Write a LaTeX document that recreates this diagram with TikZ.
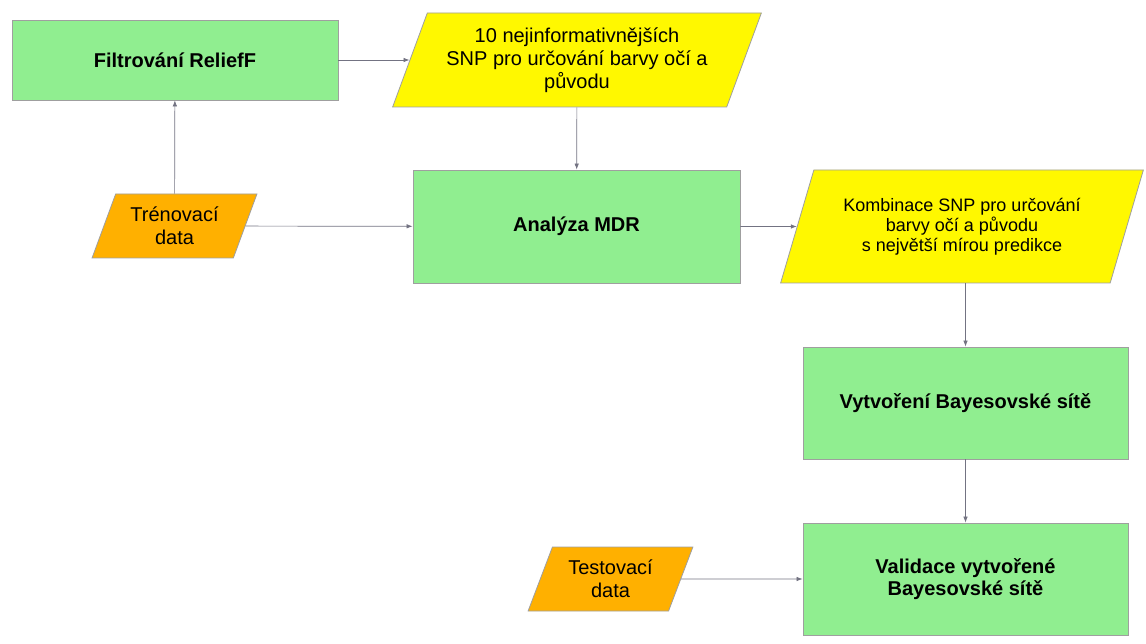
\documentclass[tikz,border=0pt]{standalone}
\usepackage{fontspec}
\setmainfont{Liberation Sans}
\usetikzlibrary{shapes.geometric,arrows.meta}
\definecolor{procgreen}{RGB}{144,238,144}
\definecolor{snpyellow}{RGB}{255,248,0}
\definecolor{dataorange}{RGB}{255,176,0}
\definecolor{flowgray}{RGB}{115,115,130}
\begin{document}
\begin{tikzpicture}[x=1pt,y=-1pt,
  proc/.style={draw=gray!75,line width=0.8pt,fill=procgreen,align=center,
    inner sep=0pt,font=\fontsize{20}{22}\selectfont\bfseries},
  dat/.style={trapezium,trapezium left angle=65,trapezium right angle=115,
    trapezium stretches=true,draw=gray!75,line width=0.8pt,align=center,
    inner sep=0pt,font=\fontsize{20}{23}\selectfont},
  flow/.style={draw=flowgray,line width=0.7pt,-{Latex[length=6pt,width=4.5pt]}}]
  \useasboundingbox (0,0) rectangle (1146,644);
  % processing steps
  \node[proc,minimum width=326pt,minimum height=80pt] (relief) at (175,60)
    {Filtrov\'an\'i ReliefF};
  \node[proc,minimum width=327pt,minimum height=113pt] (mdr) at (576.5,226.5)
    {Anal\'yza MDR};
  \node[proc,minimum width=325pt,minimum height=112pt] (bayes) at (965.5,403)
    {Vytvo\v{r}en\'i Bayesovsk\'e s\'it\v{e}};
  \node[proc,minimum width=325pt,minimum height=112pt] (valid) at (965.5,579)
    {Validace vytvo\v{r}en\'e\\Bayesovsk\'e s\'it\v{e}};
  % data
  \node[dat,fill=snpyellow,minimum width=370pt,minimum height=94pt] (top10)
    at (577,60) {10 nejinformativn\v{e}j\v{s}\'ich\\SNP pro ur\v{c}ov\'an\'i barvy o\v{c}\'i a\\p\r{u}vodu};
  \node[dat,fill=snpyellow,minimum width=364pt,minimum height=113pt,
    font=\fontsize{18}{20}\selectfont] (combo) at (962,226.5)
    {Kombinace SNP pro ur\v{c}ov\'an\'i\\barvy o\v{c}\'i a p\r{u}vodu\\s nejv\v{e}t\v{s}\'i m\'irou predikce};
  \node[dat,fill=dataorange,minimum width=165pt,minimum height=64pt] (train)
    at (174.5,226) {Tr\'enovac\'i\\data};
  \node[dat,fill=dataorange,minimum width=165pt,minimum height=64pt] (test)
    at (610.5,579) {Testovac\'i\\data};
  % connectors
  \draw[flow] (relief) -- (top10);
  \draw[flow] (top10) -- (mdr);
  \draw[flow] (train) -- (relief);
  \draw[flow] (train) -- (mdr);
  \draw[flow] (mdr) -- (combo);
  \draw[flow] (bayes.north |- combo.south) -- (bayes.north);
  \draw[flow] (bayes) -- (valid);
  \draw[flow] (test) -- (valid);
\end{tikzpicture}
\end{document}
